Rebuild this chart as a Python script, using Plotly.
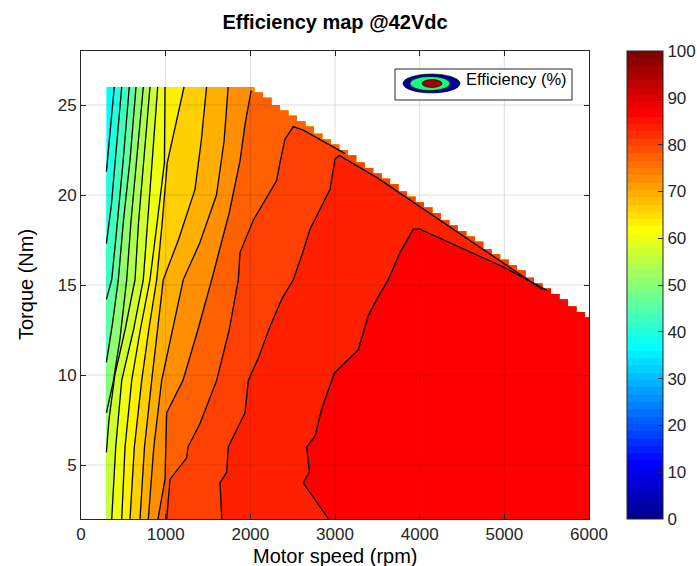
import plotly.graph_objects as go

# ---------------- data ----------------
speed_range = [300, 6000]          # rpm covered by the map
torque_floor = 2                   # Nm, lowest torque of the map

# torque-limit curve (max torque vs speed), sampled every 100 rpm
limit_speed = [2000, 2100, 2200, 2300, 2400, 2500, 2600, 2700, 2800, 2900,
               3000, 3100, 3200, 3300, 3400, 3500, 3600, 3700, 3800, 3900,
               4000, 4100, 4200, 4300, 4400, 4500, 4600, 4700, 4800, 4900,
               5000, 5100, 5200, 5300, 5400, 5500, 5600, 5700, 5800, 5900, 6000]
limit_torque = [26.0, 25.7, 25.4, 25.0, 24.7, 24.4, 24.1, 23.8, 23.4, 23.1,
                22.8, 22.5, 22.2, 21.8, 21.5, 21.2, 20.9, 20.6, 20.2, 19.9,
                19.6, 19.3, 19.0, 18.6, 18.3, 18.0, 17.7, 17.4, 17.0, 16.7,
                16.4, 16.1, 15.8, 15.4, 15.1, 14.8, 14.5, 14.2, 13.8, 13.5, 13.2]

# efficiency value (%) of the lowest band and of each iso-efficiency line
base_level = 36.7
levels = [40.0, 43.4, 46.7, 50.0, 53.4, 56.7, 60.0, 63.4, 66.7, 70.0,
          73.4, 76.7, 80.0, 83.4, 86.7]

# iso-efficiency lines: (speed rpm, torque Nm), from upper end to lower end
iso_01 = [(393, 26.0), (350, 23.8), (300, 21.3)]
iso_02 = [(481, 26.0), (420, 22.5), (360, 19.5), (300, 17.3)]
iso_03 = [(570, 26.0), (500, 22.0), (420, 18.0), (363, 15.3), (300, 14.2)]
iso_04 = [(650, 26.0), (580, 22.0), (500, 18.5), (441, 15.3), (370, 12.8), (300, 10.7)]
iso_05 = [(736, 26.0), (660, 22.0), (590, 18.5), (540, 15.3), (460, 12.0), (380, 9.6), (300, 7.9)]
iso_06 = [(815, 26.0), (740, 22.0), (680, 18.5), (638, 15.3), (520, 12.5), (400, 10.0),
          (330, 7.5), (300, 5.7)]
iso_07 = [(906, 26.0), (840, 22.0), (780, 18.5), (736, 15.3), (620, 12.5), (481, 9.7),
          (410, 6.0), (363, 2.0)]
iso_08 = [(992, 26.0), (985, 21.8), (900, 18.5), (815, 15.3), (700, 12.5), (599, 9.7),
          (520, 6.0), (481, 2.0)]
iso_09 = [(1217, 26.0), (1120, 24.0), (1019, 21.8), (960, 18.5), (894, 15.3), (800, 12.5),
          (717, 9.7), (630, 6.0), (579, 2.0)]
iso_10 = [(1483, 26.0), (1420, 23.0), (1346, 20.3), (1150, 17.5), (972, 15.3), (900, 12.5),
          (835, 9.7), (750, 6.0), (697, 2.0)]
iso_11 = [(1738, 26.0), (1690, 23.0), (1600, 20.0), (1400, 17.3), (1208, 15.3), (1080, 12.5),
          (953, 9.7), (860, 6.0), (795, 2.0)]
iso_12 = [(2010, 25.8), (1940, 24.0), (1878, 21.9), (1750, 19.0), (1544, 15.3), (1380, 12.5),
          (1204, 9.7), (1012, 7.9), (992, 4.2), (909, 2.0)]
iso_13 = [(3120, 22.3), (2626, 23.6), (2508, 23.8), (2409, 23.1), (2350, 21.8), (2311, 20.8),
          (2035, 18.6), (1878, 16.8), (1858, 15.3), (1750, 12.5), (1602, 9.7), (1406, 7.3),
          (1264, 6.0), (1248, 5.4), (1051, 4.2), (1012, 2.0)]
iso_14 = [(5450, 14.75), (4500, 17.75), (3500, 20.95), (3050, 22.2), (3000, 22.0), (2941, 20.3),
          (2705, 18.1), (2626, 16.9), (2508, 15.3), (2370, 14.2), (2232, 12.7), (2100, 11.0),
          (1976, 9.7), (1937, 7.9), (1740, 6.0), (1721, 4.6), (1642, 4.0), (1663, 2.0)]
iso_15 = [(5504, 14.7), (4988, 16.0), (4004, 18.1), (3925, 18.1), (3768, 16.8), (3630, 15.3),
          (3492, 14.2), (3393, 13.3), (3275, 11.4), (2992, 10.1), (2842, 8.1), (2764, 6.6),
          (2666, 6.0), (2697, 4.6), (2626, 4.0), (2923, 2.0)]
iso_lines = [iso_01, iso_02, iso_03, iso_04, iso_05, iso_06, iso_07, iso_08,
             iso_09, iso_10, iso_11, iso_12, iso_13, iso_14, iso_15]

x_ticks = [0, 1000, 2000, 3000, 4000, 5000, 6000]
y_ticks = [5, 10, 15, 20, 25]
cbar_ticks = [0, 10, 20, 30, 40, 50, 60, 70, 80, 90, 100]
color_limits = [0, 100]

# ---------------- styling / layout constants ----------------
W, H = 697, 566
PL, PR, PT, PB = 81, 589, 51, 519       # plot area in pixels
FONT = "Liberation Sans, Arial, sans-serif"
TXT = "#262626"


def jet64():
    """MATLAB jet(64) colormap."""
    m, n = 64, 16
    u = [i / n for i in range(1, n + 1)] + [1.0] * (n - 1) + [i / n for i in range(n, 0, -1)]
    g = [8 + k for k in range(len(u))]          # 0-based row indices
    R, G, B = [0.0] * m, [0.0] * m, [0.0] * m
    for k, uu in enumerate(u):
        gi, ri, bi = g[k], g[k] + n, g[k] - n
        if 0 <= gi < m:
            G[gi] = uu
        if 0 <= ri < m:
            R[ri] = uu
        if 0 <= bi < m:
            B[bi] = uu
    return ["rgb(%d,%d,%d)" % (round(R[i] * 255), round(G[i] * 255), round(B[i] * 255)) for i in range(m)]


JET = jet64()


def level_color(v):
    i = int((v - color_limits[0]) / (color_limits[1] - color_limits[0]) * 64)
    return JET[max(0, min(63, i))]


# ---- domain boundary (counter-clockwise, starting bottom-left) ----
def domain_boundary():
    s0, s1 = speed_range
    v = [(s0, torque_floor), (s1, torque_floor), (s1, limit_torque[-1])]
    half = (limit_speed[1] - limit_speed[0]) / 2
    for i in range(len(limit_speed) - 1, 0, -1):
        xs = limit_speed[i] - half
        v.append((xs, limit_torque[i]))
        v.append((xs, limit_torque[i - 1]))
    v.append((s0, limit_torque[0]))
    return v


BND = domain_boundary()


def to_px(p):
    return (p[0] * (PR - PL) / 6000.0, p[1] * (PB - PT) / 26.0)


seg_len, cum = [], [0.0]
for j in range(len(BND)):
    a, b = to_px(BND[j]), to_px(BND[(j + 1) % len(BND)])
    L = ((b[0] - a[0]) ** 2 + (b[1] - a[1]) ** 2) ** 0.5
    seg_len.append(L)
    cum.append(cum[-1] + L)
TOTAL = cum[-1]


def param_of(p):
    P = to_px(p)
    best = None
    for j in range(len(BND)):
        a, b = to_px(BND[j]), to_px(BND[(j + 1) % len(BND)])
        dx, dy = b[0] - a[0], b[1] - a[1]
        L2 = dx * dx + dy * dy
        t = 0.0 if L2 == 0 else max(0.0, min(1.0, ((P[0] - a[0]) * dx + (P[1] - a[1]) * dy) / L2))
        qx, qy = a[0] + t * dx, a[1] + t * dy
        d = (qx - P[0]) ** 2 + (qy - P[1]) ** 2
        if best is None or d < best[0]:
            best = (d, cum[j] + t * seg_len[j])
    return best[1]


def region_polygon(line):
    p_start = param_of(line[0])
    p_end = param_of(line[-1])
    span = (p_start - p_end) % TOTAL
    verts = []
    for i, v in enumerate(BND):
        dist = (cum[i] - p_end) % TOTAL
        if 0 < dist < span:
            verts.append((dist, v))
    verts.sort(key=lambda t: t[0])
    pts = list(line) + [v for _, v in verts] + [line[0]]
    return [p[0] for p in pts], [p[1] for p in pts]


fig = go.Figure()

# base band (whole domain)
fig.add_trace(go.Scatter(x=[p[0] for p in BND] + [BND[0][0]], y=[p[1] for p in BND] + [BND[0][1]],
                         mode="lines", fill="toself", fillcolor=level_color(base_level),
                         line=dict(width=0), hoverinfo="skip", showlegend=False))
# filled bands, lowest first
for lev, line in zip(levels, iso_lines):
    xs, ys = region_polygon(line)
    fig.add_trace(go.Scatter(x=xs, y=ys, mode="lines", fill="toself", fillcolor=level_color(lev),
                             line=dict(width=0), hoverinfo="skip", showlegend=False))
# contour lines
for line in iso_lines:
    fig.add_trace(go.Scatter(x=[p[0] for p in line], y=[p[1] for p in line], mode="lines",
                             line=dict(color="black", width=1.3), hoverinfo="skip", showlegend=False))

# colorbar carrier
cs = []
for i, c in enumerate(JET):
    cs.append([i / 64, c])
    cs.append([(i + 1) / 64, c])
fig.add_trace(go.Scatter(x=[3000], y=[10], mode="markers",
                         marker=dict(size=0.1, opacity=0, color=color_limits, cmin=color_limits[0],
                                     cmax=color_limits[1], colorscale=cs, showscale=True,
                                     colorbar=dict(x=(627 - PL) / (PR - PL), xanchor="left",
                                                   xref="paper", thickness=36, len=1, lenmode="fraction",
                                                   y=0.5, yanchor="middle", xpad=0, ypad=0,
                                                   outlinecolor=TXT, outlinewidth=1,
                                                   tickvals=cbar_ticks, ticks="inside", ticklen=5,
                                                   tickcolor=TXT,
                                                   tickfont=dict(family=FONT, size=17, color=TXT))),
                         hoverinfo="skip", showlegend=False))

shapes = []
# grid lines drawn above the map (MATLAB style)
for xv in x_ticks[1:-1]:
    shapes.append(dict(type="line", xref="x", yref="paper", x0=xv, x1=xv, y0=0, y1=1,
                       line=dict(color="rgba(0,0,0,0.13)", width=1), layer="above"))
for yv in y_ticks:
    shapes.append(dict(type="line", xref="paper", yref="y", x0=0, x1=1, y0=yv, y1=yv,
                       line=dict(color="rgba(0,0,0,0.13)", width=1), layer="above"))


def px_x(px):
    return (px - PL) / (PR - PL)


def px_y(py):
    return (PB - py) / (PB - PT)


# legend box with ellipse icon
shapes.append(dict(type="rect", xref="paper", yref="paper", x0=px_x(395), x1=px_x(572),
                   y0=px_y(100), y1=px_y(69), fillcolor="white", line=dict(color=TXT, width=1),
                   layer="above"))
for (x0, x1, y0, y1, col) in [(403, 460, 74, 93, "rgb(0,0,143)"),
                              (410, 450, 76.5, 90.5, "rgb(20,255,130)"),
                              (422, 442, 79.5, 87.5, "rgb(160,0,0)")]:
    shapes.append(dict(type="circle", xref="paper", yref="paper", x0=px_x(x0), x1=px_x(x1),
                       y0=px_y(y1), y1=px_y(y0), fillcolor=col, line=dict(color="black", width=0.6),
                       layer="above"))

annotations = [
    dict(text="Efficiency (%)", xref="paper", yref="paper", x=px_x(464), y=px_y(79),
         xanchor="left", yanchor="middle", showarrow=False,
         font=dict(family=FONT, size=16.5, color="black")),
    dict(text="Motor speed (rpm)", xref="paper", yref="paper", x=0.5, y=px_y(556),
         xanchor="center", yanchor="middle", showarrow=False,
         font=dict(family=FONT, size=20, color="black")),
    dict(text="Torque (Nm)", xref="paper", yref="paper", x=px_x(26), y=px_y(285),
         xanchor="center", yanchor="middle", textangle=-90, showarrow=False,
         font=dict(family=FONT, size=20, color="black")),
]

axis_common = dict(showline=True, linecolor=TXT, linewidth=1, mirror="ticks", ticks="inside",
                   ticklen=5, tickcolor=TXT, showgrid=False, zeroline=False,
                   tickfont=dict(family=FONT, size=17, color=TXT))
fig.update_layout(
    width=W, height=H, margin=dict(l=PL, r=W - PR, t=PT, b=H - PB, autoexpand=False),
    paper_bgcolor="white", plot_bgcolor="white",
    title=dict(text="<b>Efficiency map @42Vdc</b>", x=0.5, xref="paper", xanchor="center",
               y=1 - 22 / H, yanchor="middle", font=dict(family=FONT, size=20, color="black")),
    xaxis=dict(range=[0, 6000], tickvals=x_ticks, **axis_common),
    yaxis=dict(range=[2, 28], tickvals=y_ticks, **axis_common),
    shapes=shapes, annotations=annotations, showlegend=False,
)
fig.write_html("out.html")
